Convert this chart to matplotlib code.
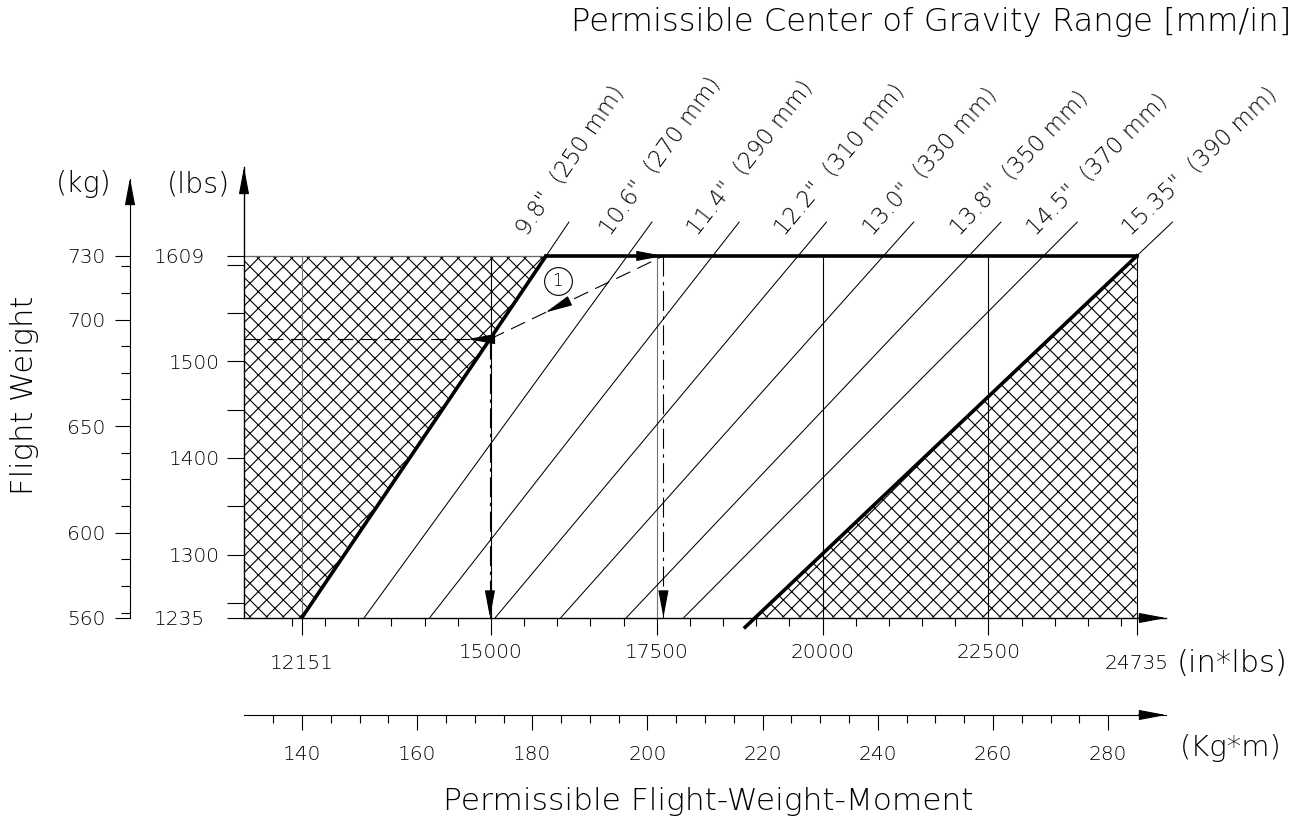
import numpy as np
import matplotlib.pyplot as plt
from matplotlib.patches import Polygon
from matplotlib.ticker import FixedLocator
from matplotlib.transforms import offset_copy

plt.rcParams['font.family'] = ['DejaVu Sans']
plt.rcParams['font.weight'] = 'light'
plt.rcParams['hatch.linewidth'] = 0.8

LB_PER_KG = 2.20462
INLB_PER_KGM = 86.796

# envelope corners (weight in lbs, moment in in*lbs)
w_min, w_max = 1235, 1609
m_fwd_min, m_aft_max = 12151, 24735
aft_line_bottom = 1225

# centre of gravity lines
cg_in = [9.8, 10.6, 11.4, 12.2, 13.0, 13.8, 14.5, 15.35]
cg_mm = [250, 270, 290, 310, 330, 350, 370, 390]
cg_line_top = 1644

# axes ticks
moment_ticks = [12151, 15000, 17500, 20000, 22500, 24735]
moment_grid = [12151, 15000, 17500, 20000, 22500]
grid_colors = ['0.45', 'k', '0.45', 'k', 'k']
lbs_ticks = [1235, 1300, 1400, 1500, 1609]
kg_ticks = [560, 600, 650, 700, 730]
kgm_ticks = [140, 160, 180, 200, 220, 240, 260, 280]

# worked example
ex_weight = 1523
ex_moment_b = 17600
ex_circle = (16003, 1583)

W, H = 1304, 821


def fx(px):
    return px / W


def fy(py):
    return 1 - py / H


fig = plt.figure(figsize=(W / 100, H / 100), dpi=100)
ax = fig.add_axes([fx(244), fy(618), (1166 - 244) / W, (618 - 167) / H])
ax.set_xlim(11277, 25176)
ax.set_ylim(1234.5, 1701)
ax.patch.set_visible(False)
for s in ['top', 'right']:
    ax.spines[s].set_visible(False)
for s in ['left', 'bottom']:
    ax.spines[s].set_linewidth(1.0)

# in*lbs axis
ax.set_xticks(moment_ticks)
ax.set_xticklabels([str(v) for v in moment_ticks])
ax.xaxis.set_minor_locator(FixedLocator(np.arange(12000, 24501, 500)))
ax.tick_params(axis='x', which='major', direction='out', length=12, width=0.8, pad=6, labelsize=14.5)
ax.tick_params(axis='x', which='minor', direction='out', length=5.8, width=0.8)
for t, v in zip(ax.xaxis.get_major_ticks(), moment_ticks):
    if v in (moment_ticks[0], moment_ticks[-1]):
        t.tick1line.set_markersize(20)
        t.set_pad(14)

# lbs axis
ax.set_yticks(lbs_ticks)
ax.yaxis.set_minor_locator(FixedLocator(np.arange(1250, 1601, 50)))
ax.tick_params(axis='y', which='both', direction='out', length=12.2, width=0.8, pad=5, labelsize=14.5)
for t, v in zip(ax.yaxis.get_major_ticks(), lbs_ticks):
    if v in (w_min, w_max):
        t.tick1line.set_markersize(20)
        t.set_pad(15.8)

# kg axis
kg_ax = ax.secondary_yaxis(-114 / 922, functions=(lambda w: w / LB_PER_KG, lambda k: k * LB_PER_KG))
kg_ax.set_ticks(kg_ticks)
kg_ax.yaxis.set_minor_locator(FixedLocator(np.arange(562.5, 730, 12.5)))
kg_ax.tick_params(which='major', length=10.8, width=0.8, pad=7, labelsize=14.5)
kg_ax.tick_params(which='minor', length=6.5, width=0.8)
kg_ax.spines['left'].set_bounds(560, 766)

# kg*m axis
kgm_ax = ax.secondary_xaxis(-97 / 451, functions=(lambda m: m / INLB_PER_KGM, lambda k: k * INLB_PER_KGM))
kgm_ax.set_ticks(kgm_ticks)
kgm_ax.xaxis.set_minor_locator(FixedLocator(np.arange(135, 281, 5)))
kgm_ax.tick_params(which='major', length=10.8, width=0.8, pad=11, labelsize=14.5)
kgm_ax.tick_params(which='minor', length=5.8, width=0.8)

head_props = dict(arrowstyle='-|>,head_length=1.7,head_width=0.32', mutation_scale=10,
                  color='k', lw=0.8, shrinkA=0, shrinkB=0)
# axis arrow heads
for tip, tail in [((0, 1), (0, 0.95)), ((1, 0), (0.97, 0)),
                  ((-114 / 922, 0.9756), (-114 / 922, 0.93)), ((1, -97 / 451), (0.97, -97 / 451))]:
    ax.annotate('', xy=tip, xytext=tail, xycoords='axes fraction', textcoords='axes fraction',
                arrowprops=head_props, annotation_clip=False)

# envelope
xmin = ax.get_xlim()[0]
fwd_cg = m_fwd_min / w_min
aft_cg = m_aft_max / w_max
fwd_top = fwd_cg * w_max
aft_bot = aft_cg * w_min

ax.add_patch(Polygon([(xmin, w_min), (m_fwd_min, w_min), (fwd_top, w_max), (xmin, w_max)],
                     closed=True, fill=False, hatch='xx', edgecolor='k', lw=0))
ax.add_patch(Polygon([(aft_bot, w_min), (m_aft_max, w_max), (m_aft_max, w_min)],
                     closed=True, fill=False, hatch='xx', edgecolor='k', lw=0))

for m, c in zip(moment_grid, grid_colors):
    ax.plot([m, m], [w_min, w_max], color=c, lw=0.8)
ax.plot([m_aft_max, m_aft_max], [w_min, w_max], color='k', lw=0.8)
ax.plot([xmin, fwd_top], [w_max, w_max], color='0.4', lw=0.9)

# cg lines and labels
n = len(cg_in)
for i, (cg, mm) in enumerate(zip(cg_in, cg_mm)):
    c = fwd_cg if i == 0 else aft_cg if i == n - 1 else cg
    w0 = w_max if i in (0, n - 1) else w_min
    ax.plot([c * w0, c * cg_line_top], [w0, cg_line_top], color='k', lw=0.75, clip_on=False)
    p0 = ax.transData.transform((c * w_min, w_min))
    p1 = ax.transData.transform((c * cg_line_top, cg_line_top))
    ang = np.degrees(np.arctan2(p1[1] - p0[1], p1[0] - p0[0]))
    ax.annotate(f'{cg}"  ({mm} mm)', xy=(c * cg_line_top, cg_line_top), xytext=(-42, -14),
                textcoords='offset pixels', rotation=ang, rotation_mode='anchor',
                ha='left', va='baseline', fontsize=16.5, annotation_clip=False)

ax.plot([m_fwd_min, fwd_top], [w_min, w_max], color='k', lw=2.6, solid_capstyle='round')
ax.plot([fwd_top, m_aft_max], [w_max, w_max], color='k', lw=2.6)
ax.plot([aft_cg * aft_line_bottom, m_aft_max], [aft_line_bottom, w_max], color='k', lw=2.6,
        clip_on=False)

# worked example
ex_moment_a = fwd_cg * ex_weight
dash = (0, (14, 7))
dashdot = (0, (18, 5, 3, 5))
ax.plot([xmin, ex_moment_a], [ex_weight, ex_weight], color='k', lw=0.8, ls=dash)
ax.plot([ex_moment_a, ex_moment_b], [ex_weight, w_max], color='k', lw=0.8, ls=dash)
ax.plot([ex_moment_a, ex_moment_a], [ex_weight, w_min], color='k', lw=0.8, ls=dashdot)
ax.plot([ex_moment_b, ex_moment_b], [w_max, w_min], color='k', lw=0.8, ls=dashdot)


def head(tip, dx, dy):
    tail_tr = offset_copy(ax.transData, fig=fig, x=dx, y=dy, units='dots')
    ax.annotate('', xy=tip, xycoords='data', xytext=tip, textcoords=tail_tr,
                arrowprops=head_props, annotation_clip=False)


head((ex_moment_a - 22 / 0.06633, ex_weight), 22, 0)
head((ex_moment_b, w_max), -22, 0)
head((ex_moment_a, w_min), 0, 22)
head((ex_moment_b, w_min), 0, 22)
t0, t1 = 0.32, 0.44
ax.annotate('', xy=(ex_moment_a + t0 * (ex_moment_b - ex_moment_a), ex_weight + t0 * (w_max - ex_weight)),
            xytext=(ex_moment_a + t1 * (ex_moment_b - ex_moment_a), ex_weight + t1 * (w_max - ex_weight)),
            arrowprops=head_props)

ax.plot(*ex_circle, 'o', ms=20, mfc='white', mec='k', mew=0.8, zorder=5)
ax.text(*ex_circle, '1', ha='center', va='center', fontsize=12, zorder=6)

# titles and units
fig.text(fx(1291), fy(22), 'Permissible Center of Gravity Range [mm/in]', ha='right', va='center', fontsize=23.2)
fig.text(fx(708), fy(801), 'Permissible Flight-Weight-Moment', ha='center', va='center', fontsize=22.5)
fig.text(fx(25), fy(395), 'Flight Weight', rotation=90, ha='center', va='center', fontsize=22)
fig.text(fx(84), fy(184), '(kg)', ha='center', va='center', fontsize=20.5)
fig.text(fx(198), fy(184), '(lbs)', ha='center', va='center', fontsize=20.5)
fig.text(fx(1232), fy(663), '(in*lbs)', ha='center', va='center', fontsize=22)
fig.text(fx(1231), fy(748), '(Kg*m)', ha='center', va='center', fontsize=21)

fig.savefig('out.png', dpi=100)
